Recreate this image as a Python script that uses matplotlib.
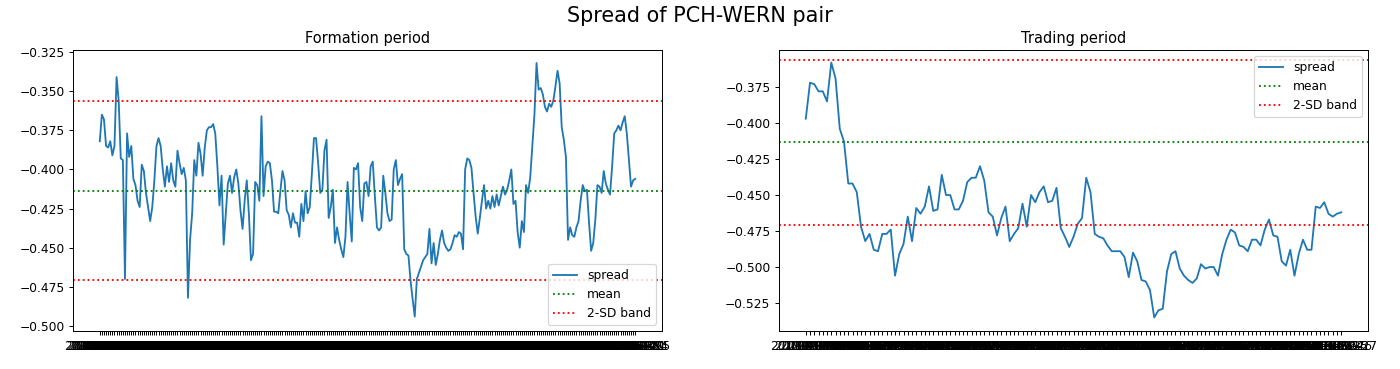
import numpy as np
import pandas as pd
import matplotlib
matplotlib.use("Agg")
import matplotlib.pyplot as plt

# ---- data ----
formation_spread = [
    -0.382, -0.365, -0.368, -0.385, -0.386, -0.382, -0.391, -0.385, -0.341, -0.356,
    -0.393, -0.394, -0.470, -0.377, -0.392, -0.385, -0.406, -0.410, -0.420, -0.424,
    -0.397, -0.401, -0.415, -0.424, -0.433, -0.424, -0.407, -0.385, -0.380, -0.385,
    -0.400, -0.411, -0.398, -0.408, -0.396, -0.407, -0.411, -0.388, -0.396, -0.403,
    -0.399, -0.407, -0.482, -0.445, -0.428, -0.394, -0.404, -0.383, -0.390, -0.404,
    -0.386, -0.375, -0.373, -0.373, -0.371, -0.377, -0.398, -0.423, -0.404, -0.448,
    -0.428, -0.409, -0.404, -0.415, -0.405, -0.400, -0.409, -0.426, -0.438, -0.420,
    -0.407, -0.428, -0.458, -0.454, -0.408, -0.410, -0.420, -0.366, -0.417, -0.398,
    -0.395, -0.396, -0.407, -0.427, -0.427, -0.428, -0.414, -0.401, -0.407, -0.426,
    -0.429, -0.437, -0.428, -0.434, -0.434, -0.443, -0.422, -0.433, -0.414, -0.428,
    -0.424, -0.403, -0.380, -0.380, -0.396, -0.415, -0.413, -0.388, -0.381, -0.431,
    -0.424, -0.413, -0.447, -0.437, -0.445, -0.451, -0.456, -0.443, -0.408, -0.428,
    -0.446, -0.399, -0.400, -0.396, -0.424, -0.433, -0.409, -0.408, -0.417, -0.398,
    -0.395, -0.417, -0.437, -0.439, -0.437, -0.404, -0.415, -0.428, -0.433, -0.432,
    -0.400, -0.394, -0.410, -0.406, -0.403, -0.451, -0.454, -0.455, -0.471, -0.483,
    -0.494, -0.470, -0.466, -0.462, -0.458, -0.456, -0.454, -0.438, -0.460, -0.447,
    -0.461, -0.454, -0.445, -0.439, -0.447, -0.450, -0.452, -0.451, -0.447, -0.442,
    -0.443, -0.440, -0.441, -0.451, -0.400, -0.393, -0.394, -0.399, -0.415, -0.430,
    -0.441, -0.431, -0.420, -0.410, -0.425, -0.420, -0.425, -0.417, -0.424, -0.416,
    -0.423, -0.417, -0.411, -0.416, -0.413, -0.407, -0.400, -0.422, -0.420, -0.440,
    -0.450, -0.433, -0.440, -0.410, -0.415, -0.405, -0.385, -0.365, -0.332, -0.349,
    -0.348, -0.352, -0.360, -0.363, -0.358, -0.360, -0.356, -0.347, -0.337, -0.345,
    -0.373, -0.381, -0.392, -0.445, -0.437, -0.442, -0.443, -0.437, -0.433, -0.420,
    -0.410, -0.414, -0.413, -0.434, -0.452, -0.447, -0.432, -0.410, -0.411, -0.415,
    -0.401, -0.409, -0.413, -0.416, -0.398, -0.377, -0.375, -0.372, -0.375, -0.370,
    -0.366, -0.377, -0.394, -0.411, -0.407, -0.406,
]

trading_spread = [
    -0.397, -0.372, -0.373, -0.378, -0.378, -0.385, -0.358, -0.369, -0.404, -0.413,
    -0.442, -0.442, -0.448, -0.472, -0.482, -0.477, -0.488, -0.489, -0.477, -0.477,
    -0.474, -0.506, -0.491, -0.484, -0.465, -0.482, -0.459, -0.463, -0.458, -0.444,
    -0.461, -0.460, -0.436, -0.450, -0.450, -0.460, -0.460, -0.454, -0.441, -0.438,
    -0.438, -0.430, -0.440, -0.462, -0.465, -0.478, -0.466, -0.458, -0.482, -0.477,
    -0.473, -0.456, -0.472, -0.450, -0.455, -0.448, -0.444, -0.455, -0.454, -0.445,
    -0.473, -0.479, -0.486, -0.479, -0.470, -0.466, -0.438, -0.448, -0.477, -0.479,
    -0.480, -0.485, -0.489, -0.489, -0.489, -0.493, -0.507, -0.490, -0.496, -0.509,
    -0.510, -0.516, -0.535, -0.530, -0.529, -0.503, -0.491, -0.489, -0.501, -0.506,
    -0.509, -0.511, -0.508, -0.498, -0.501, -0.500, -0.500, -0.506, -0.491, -0.481,
    -0.474, -0.476, -0.485, -0.486, -0.489, -0.481, -0.481, -0.485, -0.474, -0.467,
    -0.478, -0.479, -0.496, -0.499, -0.488, -0.506, -0.491, -0.481, -0.488, -0.488,
    -0.458, -0.459, -0.455, -0.463, -0.465, -0.463, -0.462,
]

spread_mean = -0.4135
band_upper = -0.3565
band_lower = -0.4705

formation_dates = pd.bdate_range("2018-01-02", periods=len(formation_spread)).strftime("%Y-%m-%d").tolist()
trading_dates = pd.bdate_range("2019-01-02", periods=len(trading_spread)).strftime("%Y-%m-%d").tolist()

suptitle_text = "Spread of PCH-WERN pair"
titles = ["Formation period", "Trading period"]

# ---- figure ----
DPI = 88
fig = plt.figure(figsize=(1400 / DPI, 369 / DPI), dpi=DPI)
W, H = 1400, 369

def axes_px(x0, y0, x1, y1):
    return fig.add_axes([x0 / W, 1 - y1 / H, (x1 - x0) / W, (y1 - y0) / H])

ax1 = axes_px(73, 50, 662, 331)
ax2 = axes_px(779, 50, 1368, 331)

for ax, dates, vals, title, loc in [
    (ax1, formation_dates, formation_spread, titles[0], "lower right"),
    (ax2, trading_dates, trading_spread, titles[1], "upper right"),
]:
    ax.plot(dates, vals, color="C0", label="spread")
    ax.axhline(spread_mean, color="g", linestyle=":", label="mean")
    ax.axhline(band_upper, color="r", linestyle=":", label="2-SD band")
    ax.axhline(band_lower, color="r", linestyle=":")
    ax.set_title(title)
    ax.legend(loc=loc)

ax1.set_ylim(-0.5032, -0.3237)
ax1.set_yticks([-0.500, -0.475, -0.450, -0.425, -0.400, -0.375, -0.350, -0.325])
ax2.set_ylim(-0.5444, -0.3493)
ax2.set_yticks([-0.525, -0.500, -0.475, -0.450, -0.425, -0.400, -0.375])

fig.suptitle(suptitle_text, fontsize=17, y=0.985)

fig.savefig("out.png", dpi=DPI)
